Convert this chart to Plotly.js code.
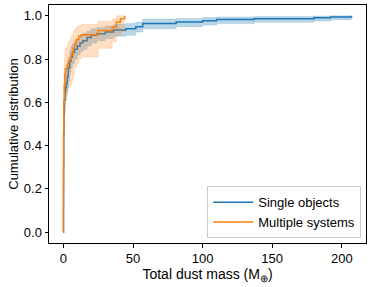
<!DOCTYPE html>
<html><head><meta charset="utf-8">
<script src="https://cdn.plot.ly/plotly-3.0.1.min.js"></script>
<style>html,body{margin:0;padding:0;background:#fff}</style>
</head><body><div id="chart" style="width:374px;height:287px"></div>
<script>
const singleX = [0, 0.05, 0.1, 0.2, 0.4, 0.7, 1.1, 1.6, 2.2, 2.8, 3.5, 4.5, 5.5, 6.5, 8, 10, 12, 14, 17, 20, 24, 30, 36, 45, 52, 57, 81, 100, 110, 137, 180, 192, 207];
const singleY = [0, 0.12, 0.3, 0.45, 0.55, 0.61, 0.65, 0.67, 0.69, 0.72, 0.76, 0.79, 0.81, 0.83, 0.845, 0.86, 0.875, 0.885, 0.9, 0.91, 0.917, 0.925, 0.935, 0.94, 0.95, 0.965, 0.972, 0.977, 0.983, 0.987, 0.991, 0.995, 1.0];
const singleLo = [0, 0.08, 0.24, 0.38, 0.48, 0.54, 0.58, 0.61, 0.63, 0.66, 0.70, 0.74, 0.76, 0.78, 0.80, 0.82, 0.835, 0.845, 0.86, 0.875, 0.885, 0.895, 0.905, 0.91, 0.925, 0.94, 0.95, 0.957, 0.964, 0.97, 0.976, 0.982, 0.987];
const singleHi = [0.02, 0.17, 0.36, 0.52, 0.62, 0.68, 0.72, 0.73, 0.75, 0.78, 0.81, 0.84, 0.86, 0.87, 0.885, 0.895, 0.91, 0.92, 0.93, 0.94, 0.945, 0.953, 0.96, 0.965, 0.97, 0.985, 0.988, 0.992, 0.995, 0.997, 0.999, 1.0, 1.0];

const multiX = [0, 0.05, 0.15, 0.3, 0.6, 1.0, 1.4, 2.5, 3.4, 4.5, 5.7, 6.9, 8, 9.3, 11, 12.9, 25, 35, 38, 41, 44];
const multiY = [0, 0.2, 0.45, 0.6, 0.68, 0.73, 0.755, 0.77, 0.79, 0.8, 0.82, 0.85, 0.87, 0.89, 0.905, 0.912, 0.932, 0.948, 0.971, 0.986, 1.0];
const multiLo = [0, 0.1, 0.3, 0.45, 0.55, 0.6, 0.64, 0.65, 0.67, 0.68, 0.70, 0.73, 0.76, 0.78, 0.80, 0.81, 0.85, 0.88, 0.91, 0.925, 0.94];
const multiHi = [0.05, 0.3, 0.58, 0.73, 0.8, 0.84, 0.85, 0.86, 0.88, 0.89, 0.91, 0.93, 0.94, 0.95, 0.955, 0.96, 0.975, 0.985, 1.0, 1.0, 1.0];

const xTicks = [0, 50, 100, 150, 200];
const yTicks = [0, 0.2, 0.4, 0.6, 0.8, 1.0];
const seriesNames = ['Single objects', 'Multiple systems'];

const blue = '#1f77b4', orange = '#ff7f0e';
const traces = [
  {x: singleX, y: singleLo, mode: 'lines', line: {shape: 'hv', width: 0.5, color: 'rgba(31,119,180,0.35)'}, showlegend: false, hoverinfo: 'skip'},
  {x: singleX, y: singleHi, mode: 'lines', fill: 'tonexty', fillcolor: 'rgba(31,119,180,0.3)', line: {shape: 'hv', width: 0.5, color: 'rgba(31,119,180,0.35)'}, showlegend: false, hoverinfo: 'skip'},
  {x: singleX, y: singleY, mode: 'lines', name: seriesNames[0], line: {shape: 'hv', width: 1.5, color: blue}},
  {x: multiX, y: multiLo, mode: 'lines', line: {shape: 'hv', width: 0.5, color: 'rgba(255,127,14,0.35)'}, showlegend: false, hoverinfo: 'skip'},
  {x: multiX, y: multiHi, mode: 'lines', fill: 'tonexty', fillcolor: 'rgba(255,127,14,0.25)', line: {shape: 'hv', width: 0.5, color: 'rgba(255,127,14,0.35)'}, showlegend: false, hoverinfo: 'skip'},
  {x: multiX, y: multiY, mode: 'lines', name: seriesNames[1], line: {shape: 'hv', width: 1.5, color: orange}}
];

const font = {family: 'Liberation Sans, Arial, sans-serif', size: 13, color: '#000'};
const xTitleFont = {family: 'Liberation Sans, Arial, sans-serif', size: 14, color: '#000'};
const layout = {
  width: 374, height: 287,
  margin: {l: 49, r: 8, t: 5, b: 44},
  paper_bgcolor: '#fff', plot_bgcolor: '#fff',
  font: font,
  showlegend: true,
  xaxis: {
    range: [-10.35, 217.4], tickvals: xTicks, ticks: 'outside', ticklen: 3.5, tickwidth: 1, tickcolor: '#000',
    showgrid: false, zeroline: false, showline: true, linecolor: '#000', linewidth: 1, mirror: true,
    title: {text: 'Total dust mass (M<sub>⊕</sub>)', font: xTitleFont, standoff: 2},
    tickfont: font
  },
  yaxis: {
    range: [-0.05, 1.05], tickvals: yTicks, tickformat: '.1f', ticks: 'outside', ticklen: 3.5, tickwidth: 1, tickcolor: '#000',
    showgrid: false, zeroline: false, showline: true, linecolor: '#000', linewidth: 1, mirror: true,
    title: {text: 'Cumulative distribution', font: font, standoff: 2},
    tickfont: font
  },
  legend: {
    x: 0.985, y: 0.02, xanchor: 'right', yanchor: 'bottom', traceorder: 'normal',
    bgcolor: 'rgba(255,255,255,0.8)', bordercolor: '#cccccc', borderwidth: 1,
    font: font, tracegroupgap: 0, itemwidth: 40
  }
};
Plotly.newPlot('chart', traces, layout, {staticPlot: true, displayModeBar: false});
</script></body></html>
